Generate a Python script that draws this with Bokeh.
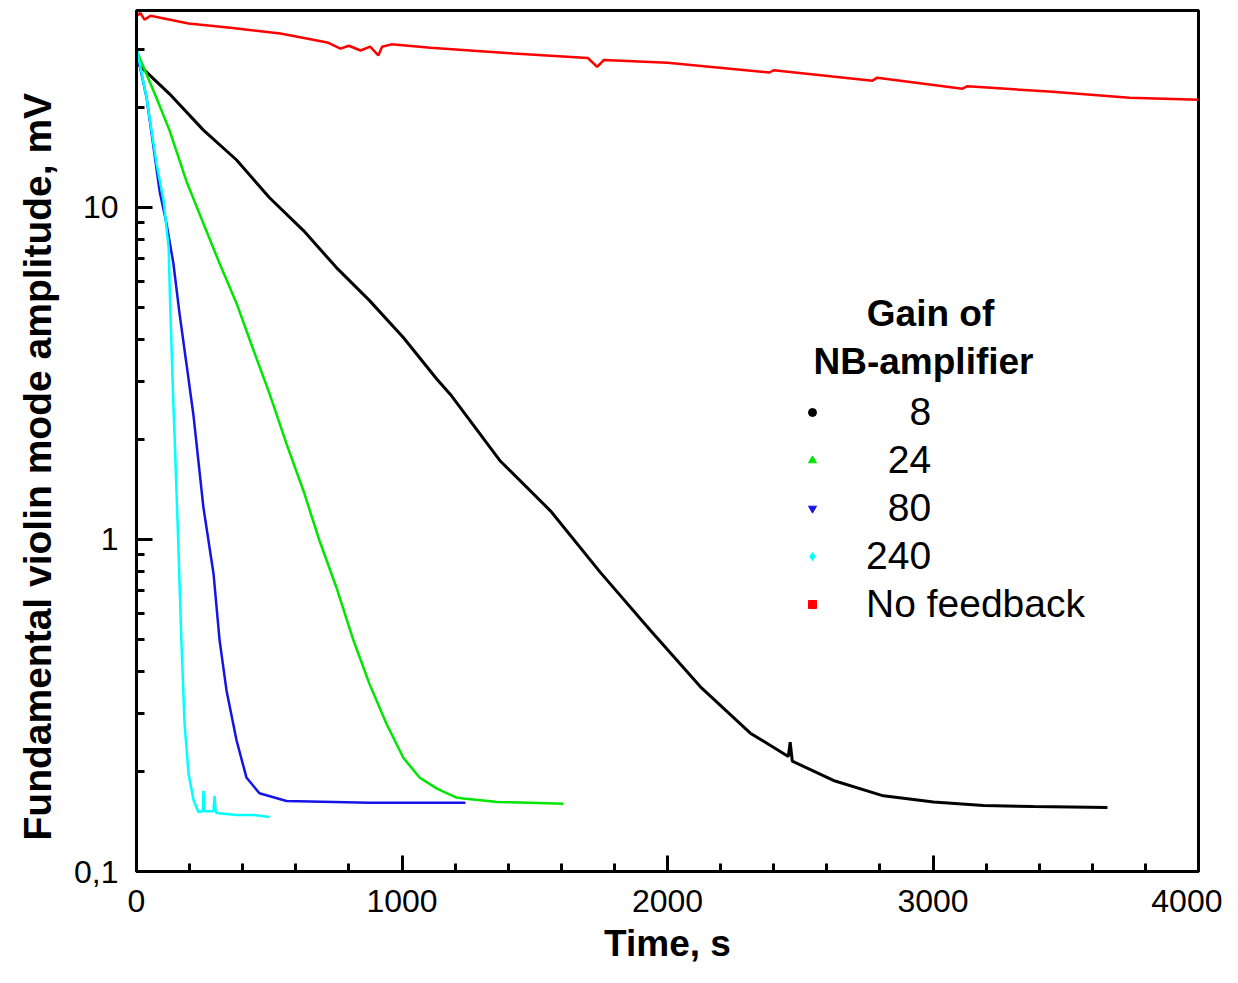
from bokeh.plotting import figure
from bokeh.models import Range1d, FixedTicker, Legend, LegendItem, Label, ColumnDataSource, Title
from bokeh.embed import file_html
from bokeh.resources import INLINE

# ---- data (time in s, amplitude in mV) ----
gain8_t = [0, 124, 252, 377, 501, 629, 753, 877, 1005, 1130, 1183, 1371, 1559, 1747,
           1936, 2124, 2312, 2455, 2462, 2470, 2625, 2813, 3002, 3190, 3378, 3657]
gain8_v = [27.3, 22.0, 17.1, 13.9, 10.7, 8.52, 6.59, 5.25, 4.06, 3.05, 2.73, 1.72, 1.22, 0.796,
           0.532, 0.36, 0.261, 0.222, 0.245, 0.215, 0.188, 0.169, 0.162, 0.158, 0.157, 0.156]

gain24_t = [0, 75, 124, 188, 252, 313, 377, 441, 501, 565, 629, 689, 753, 817, 877, 941,
            1005, 1066, 1130, 1205, 1232, 1359, 1484, 1608]
gain24_v = [29.7, 21.4, 17.1, 12.0, 8.95, 6.78, 5.14, 3.71, 2.75, 1.94, 1.40, 0.993, 0.717,
            0.497, 0.368, 0.279, 0.220, 0.192, 0.178, 0.167, 0.166, 0.162, 0.161, 0.160]

gain80_t = [0, 38, 64, 87, 113, 139, 162, 188, 215, 252, 290, 313, 339, 377, 414, 463, 565, 877, 1239]
gain80_v = [29.7, 21.4, 15.2, 11.2, 8.95, 6.78, 4.80, 3.39, 2.35, 1.25, 0.790, 0.497, 0.351,
            0.248, 0.192, 0.172, 0.163, 0.161, 0.161]

gain240_t = [0, 38, 75, 102, 121, 126, 132, 138, 144, 157, 169, 181, 196, 215, 233, 250, 252,
             256, 264, 290, 294, 298, 301, 377, 441, 501]
gain240_v = [30.3, 21.4, 13.6, 10.5, 7.58, 5.36, 3.79, 2.68, 1.99, 0.993, 0.497, 0.279, 0.197,
             0.164, 0.151, 0.152, 0.175, 0.152, 0.152, 0.152, 0.169, 0.152, 0.150, 0.148, 0.148, 0.146]

nofb_t = [0, 15, 30, 53, 196, 354, 542, 719, 768, 800, 844, 880, 911, 925, 960, 1107, 1420,
          1700, 1735, 1760, 2000, 2384, 2400, 2772, 2790, 3111, 3130, 3450, 3740, 4000]
nofb_v = [37.8, 38.5, 36.8, 37.8, 35.8, 34.8, 33.4, 31.4, 30.1, 30.7, 29.7, 30.5, 28.7, 30.5,
          31.0, 30.3, 29.1, 28.2, 26.5, 27.8, 27.3, 25.5, 25.9, 24.1, 24.6, 22.8, 23.2, 22.3, 21.4, 21.1]

x_ticks = [0, 1000, 2000, 3000, 4000]
y_ticks = [0.1, 1, 10]
y_tick_labels = {0.1: "0,1", 1: "1", 10: "10"}

legend_title = ["Gain of", "NB-amplifier"]
legend_labels = ["\u2007\u20078", "\u200724", "\u200780", "240", "No feedback"]

FONT = "Liberation Sans"

p = figure(frame_width=1062, frame_height=861,
           x_range=Range1d(0, 4000), y_range=Range1d(0.1, 39.2),
           y_axis_type="log", output_backend="svg", toolbar_location=None,
           min_border_left=136, min_border_right=24, min_border_top=10, min_border_bottom=96)
p.xgrid.visible = False
p.ygrid.visible = False
p.outline_line_color = "black"
p.outline_line_width = 3
p.outline_line_alpha = 1
p.background_fill_color = "white"
p.border_fill_color = "white"

# axes
xa = p.xaxis[0]
xa.ticker = FixedTicker(ticks=x_ticks, minor_ticks=list(range(0, 4001, 200)))
ya = p.yaxis[0]
minor_y = [0.2, 0.3, 0.4, 0.5, 0.6, 0.7, 0.8, 0.9, 2, 3, 4, 5, 6, 7, 8, 9, 20, 30]
ya.ticker = FixedTicker(ticks=y_ticks, minor_ticks=minor_y)
ya.major_label_overrides = y_tick_labels
for ax in (xa, ya):
    ax.axis_line_width = 3
    ax.axis_line_color = "black"
    ax.major_tick_in = 16
    ax.major_tick_out = 0
    ax.minor_tick_in = 8
    ax.minor_tick_out = 0
    ax.major_tick_line_width = 3
    ax.minor_tick_line_width = 3
    ax.major_tick_line_color = "black"
    ax.minor_tick_line_color = "black"
    ax.major_label_text_font = FONT
    ax.major_label_text_font_size = "32px"
    ax.major_label_text_color = "black"
xa.major_label_standoff = 18
ya.major_label_standoff = 18
xa.axis_label = "Time, s"
xa.axis_label_text_font = FONT
xa.axis_label_text_font_size = "37px"
xa.axis_label_text_font_style = "bold"
xa.axis_label_text_color = "black"
xa.axis_label_standoff = 8

p.add_layout(Title(text="Fundamental violin mode amplitude, mV", align="left", offset=31,
                   standoff=26, text_font=FONT, text_font_size="39px",
                   text_font_style="bold", text_color="black"), "left")

# curves
series = [
    (gain8_t, gain8_v, "black", "circle", 5, 3),
    (gain24_t, gain24_v, "#00e600", "triangle", 8, 2.5),
    (gain80_t, gain80_v, "#1414e6", "inverted_triangle", 8, 2.5),
    (gain240_t, gain240_v, "#00ffff", "diamond", 9, 2.5),
    (nofb_t, nofb_v, "#ff0000", "square", 7, 2.5),
]
items = []
nan = float("nan")
for (t, v, col, mk, sz, lw), lab in zip(series, legend_labels):
    src = ColumnDataSource(data=dict(t=t, v=v))
    p.line("t", "v", source=src, line_color=col, line_width=lw)
    # legend-only proxy renderer (NaN point, never drawn)
    leg_r = p.scatter(x=[nan], y=[nan], marker=mk, size=sz, fill_color=col, line_color=col)
    items.append(LegendItem(label=lab, renderers=[leg_r]))

legend = Legend(items=items, location=(666, 243), glyph_width=20, glyph_height=48,
                label_height=48, label_standoff=44, spacing=0, padding=0, margin=0,
                border_line_alpha=0, background_fill_alpha=0,
                label_text_font=FONT, label_text_font_size="39px", label_text_color="black")
p.add_layout(legend)

p.add_layout(Label(x=794, y=558, x_units="screen", y_units="screen", text=legend_title[0],
                   text_align="center", text_baseline="middle", text_font=FONT,
                   text_font_size="37px", text_font_style="bold", text_color="black"))
p.add_layout(Label(x=787, y=510, x_units="screen", y_units="screen", text=legend_title[1],
                   text_align="center", text_baseline="middle", text_font=FONT,
                   text_font_size="37px", text_font_style="bold", text_color="black"))

open("out.html", "w").write(file_html(p, INLINE))
